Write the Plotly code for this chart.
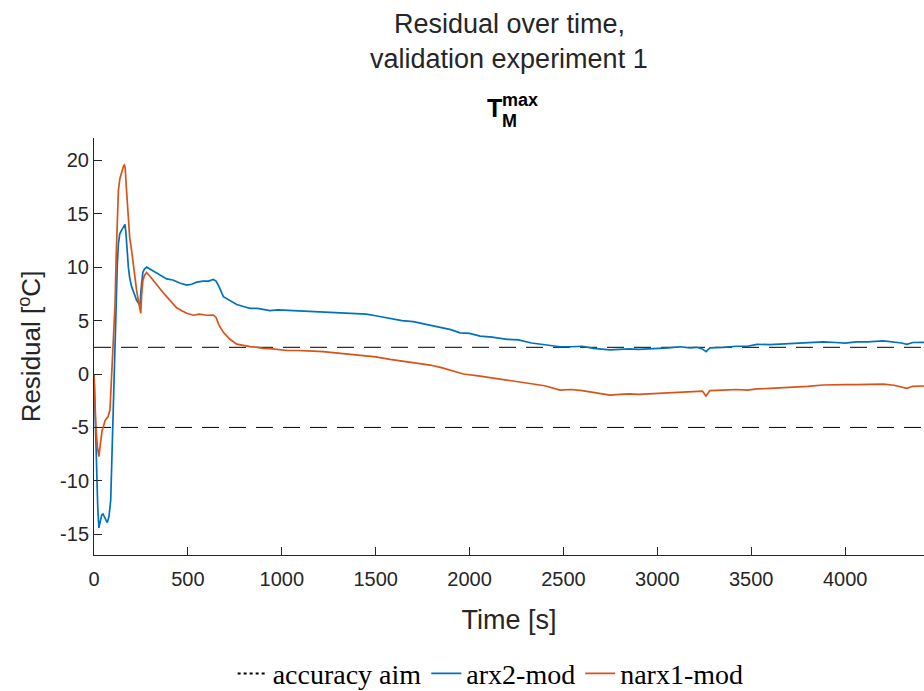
import plotly.graph_objects as go

# ---- data ----
t_arx = [0, 5, 10, 14, 20, 26, 35, 41, 48, 55, 62, 71, 80, 89, 96, 103, 110, 117, 124, 130, 137, 145, 152, 158, 162, 165, 170, 174, 179, 183, 190, 200, 213, 227, 238, 245, 250, 255, 260, 268, 280, 300, 330, 360, 387, 420, 460, 494, 520, 547, 580, 610, 635, 650, 665, 689, 710, 724, 760, 800, 831, 870, 900, 937, 980, 1030, 1080, 1130, 1168, 1220, 1280, 1346, 1400, 1450, 1500, 1577, 1640, 1700, 1790, 1850, 1900, 1949, 2000, 2056, 2120, 2200, 2260, 2330, 2400, 2482, 2540, 2600, 2660, 2748, 2800, 2850, 2900, 2960, 3000, 3060, 3121, 3174, 3210, 3240, 3259, 3280, 3350, 3420, 3480, 3530, 3600, 3660, 3720, 3800, 3883, 3950, 4000, 4060, 4120, 4204, 4260, 4300, 4329, 4360, 4420]
v_arx = [0, -3.5, -7.0, -8.7, -12.5, -14.4, -13.6, -13.2, -13.1, -13.3, -13.6, -13.9, -13.3, -11.8, -7.5, -2.4, 2.5, 6.9, 10.2, 12.2, 13.1, 13.4, 13.6, 13.8, 13.9, 14.0, 13.2, 12.5, 11.0, 10.0, 9.0, 8.2, 7.5, 6.9, 6.6, 6.46, 7.8, 8.9, 9.5, 9.8, 10.0, 9.8, 9.5, 9.2, 8.9, 8.8, 8.5, 8.33, 8.4, 8.6, 8.7, 8.7, 8.86, 8.7, 8.2, 7.24, 7.0, 6.83, 6.5, 6.3, 6.15, 6.15, 6.05, 5.93, 6.0, 5.95, 5.9, 5.85, 5.83, 5.8, 5.75, 5.68, 5.6, 5.6, 5.45, 5.2, 5.0, 4.9, 4.58, 4.35, 4.15, 3.85, 3.8, 3.55, 3.45, 3.25, 3.2, 2.9, 2.75, 2.55, 2.55, 2.6, 2.4, 2.25, 2.3, 2.35, 2.3, 2.35, 2.35, 2.45, 2.55, 2.45, 2.5, 2.35, 2.1, 2.45, 2.5, 2.6, 2.6, 2.78, 2.75, 2.8, 2.9, 2.95, 3.0, 2.95, 2.9, 3.0, 3.0, 3.1, 3.0, 2.9, 2.78, 2.95, 2.97]

t_narx = [0, 5, 10, 18, 26, 35, 43, 50, 58, 67, 75, 85, 92, 97, 103, 108, 112, 118, 124, 130, 138, 146, 152, 158, 162, 166, 172, 178, 183, 190, 200, 210, 218, 227, 236, 244, 249, 254, 260, 268, 280, 300, 334, 360, 387, 420, 440, 470, 494, 530, 560, 600, 635, 650, 665, 689, 710, 724, 760, 800, 831, 870, 900, 937, 980, 1030, 1080, 1130, 1168, 1220, 1280, 1346, 1400, 1450, 1500, 1577, 1640, 1700, 1790, 1850, 1900, 1967, 2056, 2120, 2200, 2260, 2330, 2400, 2482, 2540, 2600, 2660, 2748, 2800, 2850, 2900, 2960, 3000, 3060, 3121, 3174, 3210, 3240, 3259, 3280, 3350, 3420, 3480, 3530, 3600, 3660, 3720, 3800, 3883, 3950, 4000, 4060, 4120, 4204, 4260, 4300, 4329, 4360, 4420]
v_narx = [0, -2.5, -4.9, -6.8, -7.74, -6.4, -5.3, -4.93, -4.4, -4.15, -4.0, -3.37, -1.0, 1.5, 3.8, 5.0, 6.5, 11.0, 15.0, 17.2, 18.3, 18.9, 19.2, 19.5, 19.56, 19.3, 17.5, 15.5, 14.1, 12.8, 11.6, 10.0, 8.8, 7.8, 6.9, 6.2, 5.68, 7.5, 8.7, 9.2, 9.5, 9.1, 8.3, 7.8, 7.24, 6.6, 6.2, 5.9, 5.68, 5.5, 5.6, 5.5, 5.52, 5.3, 4.6, 3.9, 3.5, 3.25, 2.8, 2.65, 2.56, 2.5, 2.4, 2.37, 2.3, 2.2, 2.2, 2.2, 2.15, 2.1, 2.0, 1.87, 1.8, 1.75, 1.6, 1.37, 1.2, 1.05, 0.84, 0.6, 0.35, 0.0, -0.19, -0.35, -0.55, -0.7, -0.9, -1.1, -1.5, -1.45, -1.55, -1.7, -1.97, -1.9, -1.85, -1.9, -1.85, -1.8, -1.75, -1.65, -1.65, -1.6, -1.6, -2.06, -1.55, -1.5, -1.45, -1.5, -1.4, -1.35, -1.3, -1.25, -1.15, -1.03, -1.05, -1.0, -1.0, -0.95, -0.94, -1.05, -1.2, -1.34, -1.15, -1.12]

aim_levels = [2.5, -5]
x_span = [0, 4420]

x_ticks = [0, 500, 1000, 1500, 2000, 2500, 3000, 3500, 4000]
x_ticktext = ["0", "500", "1000", "1500", "2000", "2500", "3000", "3500", "4000"]
y_ticks = [-15, -10, -5, 0, 5, 10, 15, 20]
y_ticktext = ["-15", "-10", "-5", "0", "5", "10", "15", "20"]

BLUE = "#0072BD"
ORANGE = "#D95319"
AX = "#262626"

fig = go.Figure()

# accuracy aim lines (drawn without legend; legend entry shown separately as in the reference)
xa, ya = [], []
for lvl in aim_levels:
    xa += [x_span[0], x_span[1], None]
    ya += [lvl, lvl, None]
fig.add_trace(go.Scatter(x=xa, y=ya, mode="lines", name="accuracy aim", showlegend=False,
                         legendgroup="aim",
                         line=dict(color="black", width=1, dash="17px,10px")))
fig.add_trace(go.Scatter(x=[None], y=[None], mode="lines", name="accuracy aim",
                         legendgroup="aim",
                         line=dict(color="black", width=2, dash="3px,3px")))
fig.add_trace(go.Scatter(x=t_arx, y=v_arx, mode="lines", name="arx2-mod",
                         line=dict(color=BLUE, width=1.7)))
fig.add_trace(go.Scatter(x=t_narx, y=v_narx, mode="lines", name="narx1-mod",
                         line=dict(color=ORANGE, width=1.7)))

font_sans = "Liberation Sans, Arial, Helvetica, sans-serif"

fig.update_layout(
    width=924, height=691,
    margin=dict(l=94, r=0, t=138, b=136),
    plot_bgcolor="white", paper_bgcolor="white",
    font=dict(family=font_sans, color=AX, size=20),
    showlegend=True,
    legend=dict(orientation="h", xref="container", yref="container",
                x=0.531, y=0.025, xanchor="center", yanchor="middle",
                font=dict(family="Liberation Serif, DejaVu Serif, serif", size=28, color="black"),
                itemwidth=30, tracegroupgap=0, bgcolor="rgba(0,0,0,0)"),
    xaxis=dict(range=[0, 4420], tickvals=x_ticks, ticktext=x_ticktext, ticks="inside", ticklen=8,
               tickcolor=AX, showline=True, linecolor=AX, linewidth=1,
               showgrid=False, zeroline=False, tickfont=dict(size=20, color=AX),
               ticklabelstandoff=6,
               title=dict(text="Time [s]", font=dict(size=27, color=AX), standoff=21)),
    yaxis=dict(range=[-16.94, 22.09], tickvals=y_ticks, ticktext=y_ticktext, ticks="inside", ticklen=8,
               tickcolor=AX, showline=True, linecolor=AX, linewidth=1,
               showgrid=False, zeroline=False, tickfont=dict(size=20, color=AX),
               title=dict(text="Residual [<sup>o</sup>C]", font=dict(size=26, color=AX), standoff=11)),
    annotations=[
        dict(text="Residual over time,", xref="paper", yref="paper", x=0.5,
             y=(555 - 24) / 417, xanchor="center", yanchor="middle", showarrow=False,
             font=dict(size=27, color=AX)),
        dict(text="validation experiment 1", xref="paper", yref="paper", x=0.5,
             y=(555 - 59) / 417, xanchor="center", yanchor="middle", showarrow=False,
             font=dict(size=27, color=AX)),
        dict(text="<b>T</b>", xref="paper", yref="paper", x=(494 - 94) / 830,
             y=(555 - 108) / 417, xanchor="center", yanchor="middle", showarrow=False,
             font=dict(size=25, color="black")),
        dict(text="<b>max</b>", xref="paper", yref="paper", x=(500 - 94) / 830,
             y=(555 - 100) / 417, xanchor="left", yanchor="middle", showarrow=False,
             font=dict(size=18, color="black")),
        dict(text="<b>M</b>", xref="paper", yref="paper", x=(500 - 94) / 830,
             y=(555 - 121) / 417, xanchor="left", yanchor="middle", showarrow=False,
             font=dict(size=18, color="black")),
    ],
)

fig.write_html("out.html")
